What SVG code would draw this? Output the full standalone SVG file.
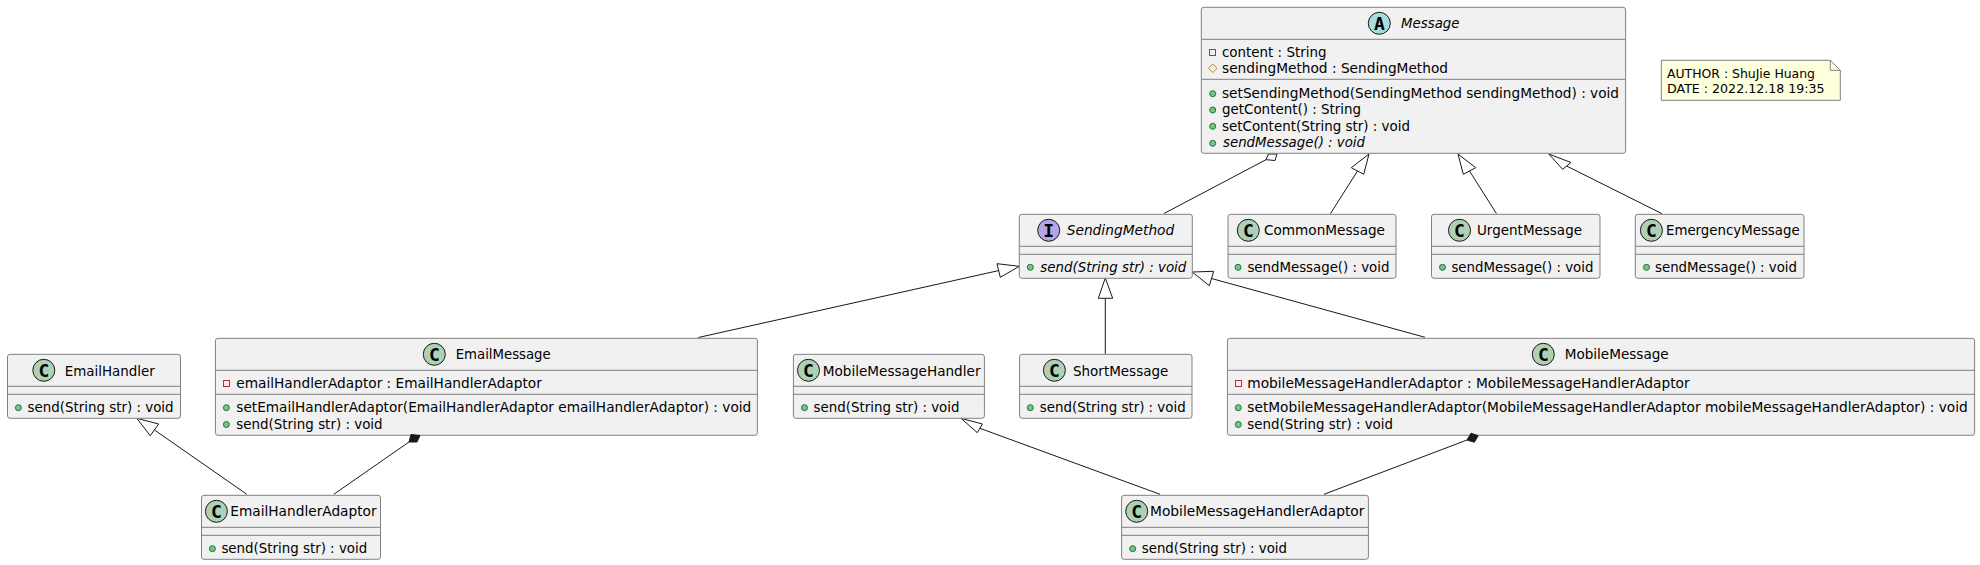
<svg xmlns="http://www.w3.org/2000/svg" width="1980" height="565" viewBox="0 0 1980 565">
<style>
text{font-family:"DejaVu Sans","Liberation Sans",sans-serif;font-size:14px;fill:#000}
.i{font-style:italic}
.n{font-size:13px}
text.l{font-family:"DejaVu Sans Mono","Liberation Mono",monospace;font-weight:bold;font-size:18px;text-anchor:middle;fill:#000}
.b{fill:#F1F1F1;stroke:#808080;stroke-width:1}
.s{stroke:#808080;stroke-width:1;fill:none}
.c{stroke:#181818;stroke-width:1}
.cC{fill:#ADD1B2}.cA{fill:#A9DCDF}.cI{fill:#B4A7E5}
.pub{fill:#84BE84;stroke:#038048;stroke-width:1}
.pri{fill:none;stroke:#C82930;stroke-width:1}
.pro{fill:none;stroke:#B38D22;stroke-width:1}
.e{stroke:#181818;stroke-width:1;fill:none}
.h{fill:#fff;stroke:#181818;stroke-width:1}
.f{fill:#181818;stroke:#181818;stroke-width:1}
</style>
<rect width="1980" height="565" fill="#fff"/>
<g id="connectors">
<path class="e" d="M1164 213.5L1266 159.7"/><polygon class="h" points="1268.5,154 1277,154 1275,160.5 1266,159.7"/>
<path class="e" d="M1330.4 213.7L1357.5 171"/><polygon class="h" points="1369,154 1351.3,167.7 1363.7,174.3"/>
<path class="e" d="M1496.5 213.7L1469.5 171"/><polygon class="h" points="1458,154 1475.7,167.7 1463.3,174.3"/>
<path class="e" d="M1662 213.7L1566.6 166"/><polygon class="h" points="1548.8,154 1562.6,169.3 1571,162.5"/>
<path class="e" d="M698.3 337.5L999 270.5"/><polygon class="h" points="1019.3,266.3 997,263.7 1000.3,277.3"/>
<path class="e" d="M1105.3 354.3V298.3"/><polygon class="h" points="1105.3,278 1098.3,298.3 1112.7,298.3"/>
<path class="e" d="M1425 337.3L1211.5 278.5"/><polygon class="h" points="1192.3,272 1213.7,271.3 1209.3,285.7"/>
<path class="e" d="M246.8 494.3L154.5 430"/><polygon class="h" points="136.8,418.3 150.2,435.7 158.7,424"/>
<path class="e" d="M1160 494.3L979.9 428.3"/><polygon class="h" points="961,418.3 977.3,432.7 982.4,424"/>
</g>
<g id="Message"><rect class="b" x="1201.3" y="7.3" width="424.3" height="146" rx="2.5"/><path class="s" d="M1201.3 39.3H1625.6M1201.3 79.3H1625.6"/>
<circle class="c cA" cx="1379.3" cy="23.3" r="11"/><text class="l" x="1379.3" y="29.8">A</text>
<text class="i" x="1401" y="28.3" textLength="58.5" lengthAdjust="spacingAndGlyphs">Message</text>
<rect class="pri" x="1209.5" y="49.5" width="6" height="6"/><text x="1222" y="57.3" textLength="104.4" lengthAdjust="spacingAndGlyphs">content : String</text>
<polygon class="pro" points="1212.7,64 1217,68.3 1212.7,72.6 1208.4,68.3"/><text x="1222" y="73.3" textLength="226" lengthAdjust="spacingAndGlyphs">sendingMethod : SendingMethod</text>
<circle class="pub" cx="1212.7" cy="93.7" r="3"/><text x="1222" y="98.3" textLength="397" lengthAdjust="spacingAndGlyphs">setSendingMethod(SendingMethod sendingMethod) : void</text>
<circle class="pub" cx="1212.7" cy="110" r="3"/><text x="1222" y="114.3" textLength="139" lengthAdjust="spacingAndGlyphs">getContent() : String</text>
<circle class="pub" cx="1212.7" cy="126.3" r="3"/><text x="1222" y="130.7" textLength="188" lengthAdjust="spacingAndGlyphs">setContent(String str) : void</text>
<circle class="pub" cx="1212.7" cy="143.3" r="3"/><text class="i" x="1223" y="147" textLength="142" lengthAdjust="spacingAndGlyphs">sendMessage() : void</text></g>
<g id="Note"><polygon points="1661.3,60.3 1830.3,60.3 1840.3,70.3 1840.3,100.3 1661.3,100.3" fill="#FEFFDD" stroke="#808080"/><path d="M1830.3 60.3V70.3H1840.3" fill="none" stroke="#808080"/>
<text class="n" x="1667" y="78" textLength="148" lengthAdjust="spacingAndGlyphs">AUTHOR : ShuJie Huang</text><text class="n" x="1667" y="93.3" textLength="157.6" lengthAdjust="spacingAndGlyphs">DATE : 2022.12.18 19:35</text></g>
<g id="SendingMethod"><rect class="b" x="1019.3" y="214.3" width="173" height="64" rx="2.5"/><path class="s" d="M1019.3 246.3H1192.3M1019.3 254.3H1192.3"/>
<circle class="c cI" cx="1048.7" cy="230.3" r="11"/><text class="l" x="1048.7" y="236.8">I</text>
<text class="i" x="1066.7" y="235.3" textLength="107.6" lengthAdjust="spacingAndGlyphs">SendingMethod</text>
<circle class="pub" cx="1030.3" cy="267.3" r="3"/><text class="i" x="1040.3" y="272.3" textLength="146" lengthAdjust="spacingAndGlyphs">send(String str) : void</text></g>
<g id="CommonMessage"><rect class="b" x="1228" y="214.3" width="168" height="64" rx="2.5"/><path class="s" d="M1228 246.3H1396M1228 254.3H1396"/>
<circle class="c cC" cx="1248.3" cy="230.3" r="11"/><text class="l" x="1248.3" y="236.8">C</text>
<text x="1264" y="235.3" textLength="121" lengthAdjust="spacingAndGlyphs">CommonMessage</text>
<circle class="pub" cx="1238" cy="267.3" r="3"/><text x="1247.4" y="272.3" textLength="142" lengthAdjust="spacingAndGlyphs">sendMessage() : void</text></g>
<g id="UrgentMessage"><rect class="b" x="1431.5" y="214.3" width="168.5" height="64" rx="2.5"/><path class="s" d="M1431.5 246.3H1600M1431.5 254.3H1600"/>
<circle class="c cC" cx="1459.5" cy="230.3" r="11"/><text class="l" x="1459.5" y="236.8">C</text>
<text x="1477" y="235.3" textLength="105" lengthAdjust="spacingAndGlyphs">UrgentMessage</text>
<circle class="pub" cx="1442.5" cy="267.3" r="3"/><text x="1451.4" y="272.3" textLength="142" lengthAdjust="spacingAndGlyphs">sendMessage() : void</text></g>
<g id="EmergencyMessage"><rect class="b" x="1635.3" y="214.3" width="168.7" height="64" rx="2.5"/><path class="s" d="M1635.3 246.3H1804M1635.3 254.3H1804"/>
<circle class="c cC" cx="1651.4" cy="230.3" r="11"/><text class="l" x="1651.4" y="236.8">C</text>
<text x="1666" y="235.3" textLength="133.6" lengthAdjust="spacingAndGlyphs">EmergencyMessage</text>
<circle class="pub" cx="1646.5" cy="267.3" r="3"/><text x="1655" y="272.3" textLength="142" lengthAdjust="spacingAndGlyphs">sendMessage() : void</text></g>
<g id="EmailHandler"><rect class="b" x="7.5" y="354.3" width="173" height="64" rx="2.5"/><path class="s" d="M7.5 386.3H180.5M7.5 394.3H180.5"/>
<circle class="c cC" cx="43.8" cy="370.3" r="11"/><text class="l" x="43.8" y="376.8">C</text>
<text x="64.7" y="376" textLength="90" lengthAdjust="spacingAndGlyphs">EmailHandler</text>
<circle class="pub" cx="18.4" cy="407.7" r="3"/><text x="27.4" y="412.3" textLength="146.2" lengthAdjust="spacingAndGlyphs">send(String str) : void</text></g>
<g id="EmailMessage"><rect class="b" x="215.4" y="338.3" width="542" height="97" rx="2.5"/><path class="s" d="M215.4 370.3H757.4M215.4 394.3H757.4"/>
<circle class="c cC" cx="434.3" cy="354.3" r="11"/><text class="l" x="434.3" y="360.8">C</text>
<text x="455.7" y="359.3" textLength="95" lengthAdjust="spacingAndGlyphs">EmailMessage</text>
<rect class="pri" x="223.5" y="380.5" width="6" height="6"/><text x="236.3" y="388" textLength="305.5" lengthAdjust="spacingAndGlyphs">emailHandlerAdaptor : EmailHandlerAdaptor</text>
<circle class="pub" cx="226.4" cy="407.7" r="3"/><text x="236.3" y="412.3" textLength="514.9" lengthAdjust="spacingAndGlyphs">setEmailHandlerAdaptor(EmailHandlerAdaptor emailHandlerAdaptor) : void</text>
<circle class="pub" cx="226.4" cy="424.5" r="3"/><text x="236.3" y="429" textLength="146.3" lengthAdjust="spacingAndGlyphs">send(String str) : void</text></g>
<g id="MobileMessageHandler"><rect class="b" x="793.4" y="354.3" width="191" height="64" rx="2.5"/><path class="s" d="M793.4 386.3H984.4M793.4 394.3H984.4"/>
<circle class="c cC" cx="808.5" cy="370.3" r="11"/><text class="l" x="808.5" y="376.8">C</text>
<text x="822.7" y="376" textLength="157.8" lengthAdjust="spacingAndGlyphs">MobileMessageHandler</text>
<circle class="pub" cx="804.5" cy="407.7" r="3"/><text x="813.6" y="412.3" textLength="145.9" lengthAdjust="spacingAndGlyphs">send(String str) : void</text></g>
<g id="ShortMessage"><rect class="b" x="1019.6" y="354.3" width="172.4" height="64" rx="2.5"/><path class="s" d="M1019.6 386.3H1192M1019.6 394.3H1192"/>
<circle class="c cC" cx="1054.4" cy="370.3" r="11"/><text class="l" x="1054.4" y="376.8">C</text>
<text x="1073" y="376" textLength="95.3" lengthAdjust="spacingAndGlyphs">ShortMessage</text>
<circle class="pub" cx="1030.3" cy="407.7" r="3"/><text x="1039.8" y="412.3" textLength="145.9" lengthAdjust="spacingAndGlyphs">send(String str) : void</text></g>
<g id="MobileMessage"><rect class="b" x="1227.4" y="338.3" width="747.2" height="97" rx="2.5"/><path class="s" d="M1227.4 370.3H1974.6M1227.4 394.3H1974.6"/>
<circle class="c cC" cx="1543.3" cy="354.3" r="11"/><text class="l" x="1543.3" y="360.8">C</text>
<text x="1564.7" y="359.3" textLength="104" lengthAdjust="spacingAndGlyphs">MobileMessage</text>
<rect class="pri" x="1235.5" y="380.5" width="6" height="6"/><text x="1247.3" y="388" textLength="442.3" lengthAdjust="spacingAndGlyphs">mobileMessageHandlerAdaptor : MobileMessageHandlerAdaptor</text>
<circle class="pub" cx="1238.3" cy="407.7" r="3"/><text x="1247.3" y="412.3" textLength="720.4" lengthAdjust="spacingAndGlyphs">setMobileMessageHandlerAdaptor(MobileMessageHandlerAdaptor mobileMessageHandlerAdaptor) : void</text>
<circle class="pub" cx="1238.3" cy="424.5" r="3"/><text x="1247.3" y="429" textLength="145.7" lengthAdjust="spacingAndGlyphs">send(String str) : void</text></g>
<g id="EmailHandlerAdaptor"><rect class="b" x="201.5" y="495.3" width="179" height="64" rx="2.5"/><path class="s" d="M201.5 527.3H380.5M201.5 535.3H380.5"/>
<circle class="c cC" cx="216.4" cy="511.3" r="11"/><text class="l" x="216.4" y="517.8">C</text>
<text x="230.3" y="516.3" textLength="146.3" lengthAdjust="spacingAndGlyphs">EmailHandlerAdaptor</text>
<circle class="pub" cx="212.4" cy="548.7" r="3"/><text x="221.4" y="553.3" textLength="145.8" lengthAdjust="spacingAndGlyphs">send(String str) : void</text></g>
<g id="MobileMessageHandlerAdaptor"><rect class="b" x="1121.6" y="495.3" width="246.8" height="64" rx="2.5"/><path class="s" d="M1121.6 527.3H1368.4M1121.6 535.3H1368.4"/>
<circle class="c cC" cx="1136.7" cy="511.3" r="11"/><text class="l" x="1136.7" y="517.8">C</text>
<text x="1150" y="516.3" textLength="214.4" lengthAdjust="spacingAndGlyphs">MobileMessageHandlerAdaptor</text>
<circle class="pub" cx="1132.7" cy="548.7" r="3"/><text x="1141.8" y="553.3" textLength="145.2" lengthAdjust="spacingAndGlyphs">send(String str) : void</text></g>
<g id="connectors-top">
<path class="e" d="M333.8 494.3L409 442"/><polygon class="f" points="411,434.5 420,435.5 417,442 409,442"/>
<path class="e" d="M1324 494.3L1467 440"/><polygon class="f" points="1478.2,435.7 1471,433.2 1467,440 1474.4,442.2"/>
</g>
</svg>
